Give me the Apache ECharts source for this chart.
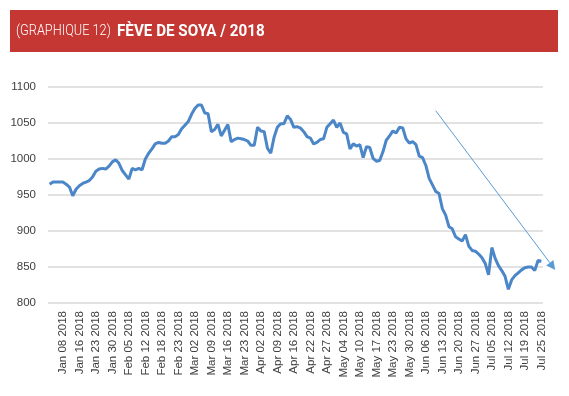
<!DOCTYPE html>
<html>
<head>
<meta charset="utf-8">
<script src="https://cdn.jsdelivr.net/npm/echarts@6/dist/echarts.min.js"></script>
<style>
  html, body { margin: 0; padding: 0; background: #fff; }
  #chart { width: 569px; height: 396px; }
</style>
</head>
<body>
<div id="chart"></div>
<script>
// libellés de l'axe (une étiquette tous les 5 points)
const tickLabels = [
  'Jan 08 2018', 'Jan 16 2018', 'Jan 23 2018', 'Jan 30 2018', 'Feb 05 2018',
  'Feb 12 2018', 'Feb 18 2018', 'Feb 23 2018', 'Mar 02 2018', 'Mar 09 2018',
  'Mar 16 2018', 'Mar 23 2018', 'Apr 02 2018', 'Apr 09 2018', 'Apr 16 2018',
  'Apr 22 2018', 'Apr 27 2018', 'May 04 2018', 'May 10 2018', 'May 17 2018',
  'May 23 2018', 'May 30 2018', 'Jun 06 2018', 'Jun 13 2018', 'Jun 20 2018',
  'Jun 27 2018', 'Jul 05 2018', 'Jul 12 2018', 'Jul 19 2018', 'Jul 25 2018'
]

// prix quotidien de la fève de soya
const prices = [
  965, 968, 968, 968, 968, 965, 961, 949, 958, 963,
  966, 968, 970, 975, 983, 986, 987, 986, 990, 996,
  999, 994, 984, 978, 972, 987, 985, 987, 985, 1000,
  1008, 1014, 1021, 1023, 1022, 1022, 1025, 1031, 1031, 1034,
  1042, 1047, 1052, 1062, 1070, 1075, 1075, 1064, 1063, 1038,
  1041, 1048, 1032, 1040, 1048, 1024, 1027, 1029, 1028, 1027,
  1025, 1019, 1019, 1044, 1039, 1038, 1015, 1008, 1030, 1044,
  1049, 1049, 1060, 1055, 1044, 1045, 1043, 1038, 1031, 1029,
  1021, 1023, 1027, 1028, 1044, 1049, 1054, 1044, 1050, 1037,
  1035, 1014, 1021, 1018, 1020, 1002, 1017, 1016, 1001, 997,
  998, 1010, 1026, 1032, 1039, 1036, 1044, 1043, 1028, 1022,
  1024, 1020, 1004, 1002, 991, 973, 964, 955, 952, 931,
  922, 906, 903, 892, 889, 886, 895, 879, 873, 872,
  868, 863, 855, 839, 877, 862, 852, 845, 837, 819,
  832, 838, 842, 846, 849, 850, 850, 845, 859, 858
]

// flèche de tendance (index, valeur)
const trendFrom = [117, 1067]
const trendTo = [153.2, 846]

const categories = prices.map((v, i) => String(i))

const chart = echarts.init(document.getElementById('chart'))

const titleFont = 'Roboto, "Noto Sans", sans-serif'
const header = [
  {
    type: 'rect',
    shape: { x: 10, y: 10, width: 548, height: 42 },
    style: { fill: '#c43733' }
  },
  {
    type: 'text',
    x: 16, y: 31.5,
    scaleX: 0.85,
    style: {
      text: '(GRAPHIQUE 12)',
      fontFamily: titleFont, fontSize: 15, fontWeight: 300,
      fill: '#fff',
      verticalAlign: 'middle',
      shadowColor: 'rgba(0,0,0,0.35)', shadowBlur: 2, shadowOffsetY: 1
    }
  },
  {
    type: 'text',
    x: 117, y: 31.5,
    scaleX: 0.95,
    style: {
      text: 'FÈVE DE SOYA / 2018',
      fontFamily: titleFont, fontSize: 16, fontWeight: 'bold',
      fill: '#fff',
      verticalAlign: 'middle',
      shadowColor: 'rgba(0,0,0,0.35)', shadowBlur: 2, shadowOffsetY: 1
    }
  }
]

const option = {
  backgroundColor: '#fff',
  animation: false,
  graphic: header,
  grid: { left: 48, right: 26, top: 87, bottom: 93 },
  xAxis: {
    type: 'category',
    data: categories,
    boundaryGap: true,
    axisLine: { show: false },
    axisTick: { show: false },
    axisLabel: {
      interval: (i) => i % 5 === 4,
      formatter: (v, i) => tickLabels[(i - 4) / 5] || '',
      rotate: 90,
      margin: 8,
      fontSize: 11.5,
      fontFamily: '"Liberation Sans", Arial, sans-serif',
      color: '#404040'
    },
    splitLine: { show: false }
  },
  yAxis: {
    type: 'value',
    min: 800,
    max: 1100,
    interval: 50,
    axisLine: { show: false },
    axisTick: { show: false },
    axisLabel: {
      margin: 12,
      fontSize: 11.5,
      fontFamily: '"Liberation Sans", Arial, sans-serif',
      color: '#404040',
      formatter: (v) => String(v)
    },
    splitLine: { lineStyle: { color: '#d9d9d9', width: 1.5 } }
  },
  series: [{
    type: 'line',
    data: prices,
    showSymbol: false,
    lineStyle: { color: '#4a86c8', width: 3 },
    z: 3
  }]
}

chart.setOption(option)

// flèche : position calculée depuis les axes
const p0 = chart.convertToPixel({ gridIndex: 0 }, [0, trendFrom[1]])
const p1 = chart.convertToPixel({ gridIndex: 0 }, [1, trendTo[1]])
const step = p1[0] - p0[0]
const x0 = p0[0] + trendFrom[0] * step
const x1 = p0[0] + trendTo[0] * step
const y0 = p0[1]
const y1 = p1[1]
const ang = Math.atan2(y1 - y0, x1 - x0)
const head = 9
const hx = x1 - head * Math.cos(ang)
const hy = y1 - head * Math.sin(ang)
const nx = -Math.sin(ang) * 4.5
const ny = Math.cos(ang) * 4.5

chart.setOption({
  graphic: header.concat([
    {
      type: 'line',
      shape: { x1: x0, y1: y0, x2: hx, y2: hy },
      style: { stroke: '#5b9bd5', lineWidth: 1 },
      z: 10
    },
    {
      type: 'polygon',
      shape: { points: [[x1, y1], [hx + nx, hy + ny], [hx - nx, hy - ny]] },
      style: { fill: '#5b9bd5' },
      z: 10
    }
  ])
})
</script>
</body>
</html>
